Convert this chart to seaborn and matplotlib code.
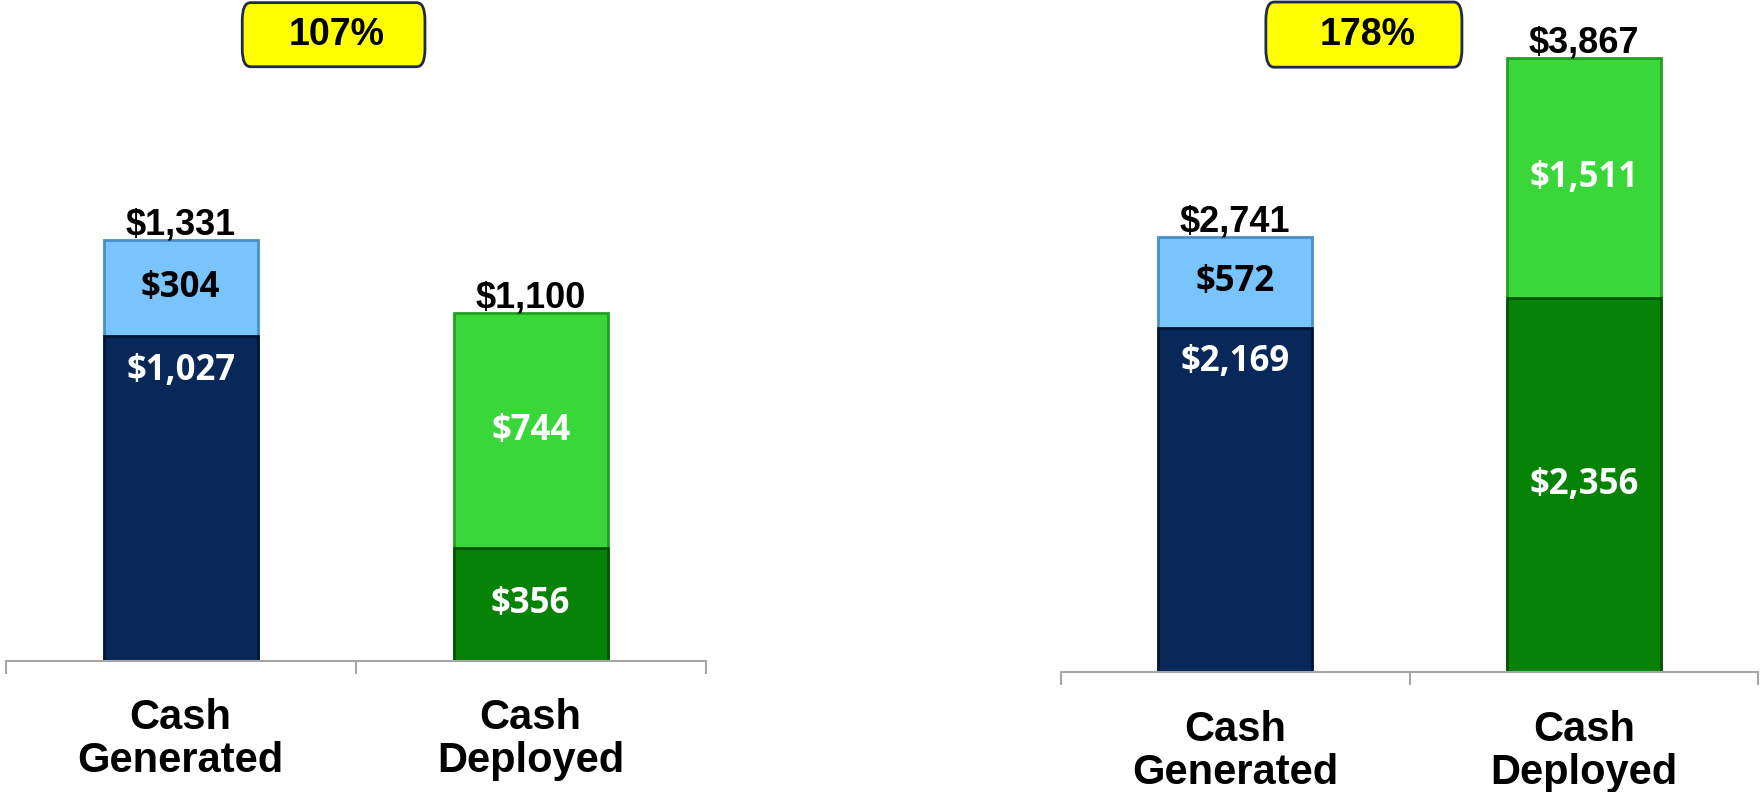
import numpy as np
import pandas as pd
import matplotlib
matplotlib.use('Agg')
import matplotlib.pyplot as plt
import seaborn as sns
from matplotlib.patches import FancyBboxPatch

# data ($ millions)
categories = ['Cash\nGenerated', 'Cash\nDeployed']
left_base = [1027, 356]
left_top = [304, 744]
right_base = [2169, 2356]
right_top = [572, 1511]
ratio_labels = ['107%', '178%']

base_colors = ['#072858', '#068206']
top_colors = ['#7AC4FC', '#39D739']
base_edges = ['#031632', '#045604']
top_edges = ['#4A90C8', '#22A022']
label_colors_base = ['white', 'white']
label_colors_top = ['black', 'white']

sns.set_style('white')
plt.rcParams['font.family'] = ['Liberation Sans', 'DejaVu Sans']
plt.rcParams['text.color'] = 'black'
plt.rcParams['xtick.color'] = 'black'

fig = plt.figure(figsize=(17.62, 7.92), dpi=100)
ax1 = fig.add_axes([0.0032, 0.1658, 0.3973, 0.8342])
ax2 = fig.add_axes([0.602, 0.1515, 0.396, 0.8485])


def draw_panel(ax, base, top, ymax, ratio, box_x):
    totals = [b + t for b, t in zip(base, top)]
    df = pd.DataFrame({'cat': categories, 'base': base, 'top': top, 'total': totals})
    sns.barplot(data=df, x='cat', y='total', hue='cat', palette=top_colors,
                width=0.44, legend=False, ax=ax, saturation=1)
    for p, ec in zip(ax.patches, top_edges):
        p.set_edgecolor(ec)
        p.set_linewidth(2)
    n0 = len(ax.patches)
    sns.barplot(data=df, x='cat', y='base', hue='cat', palette=base_colors,
                width=0.44, legend=False, ax=ax, saturation=1)
    for p, ec in zip(ax.patches[n0:], base_edges):
        p.set_edgecolor(ec)
        p.set_linewidth(2)

    ax.set_xlim(-0.5, 1.5)
    ax.set_ylim(0, ymax)
    ax.set_xlabel('')
    ax.set_ylabel('')
    ax.set_yticks([])
    sns.despine(ax=ax, left=True, top=True, right=True)
    ax.spines['bottom'].set_color('#A6A6A6')
    ax.spines['bottom'].set_linewidth(1.5)

    ax.set_xticks([0, 1])
    ax.set_xticklabels(categories, fontsize=30, fontweight='bold', linespacing=1.1,
                       color='black')
    ax.set_xticks([-0.5, 0.5, 1.5], minor=True)
    ax.tick_params(axis='x', which='major', length=0, pad=27)
    ax.tick_params(axis='x', which='minor', length=9, width=1.5, color='#A6A6A6',
                   direction='out', bottom=True)

    for i in range(2):
        # totals above bars
        ax.annotate(f'${totals[i]:,}', xy=(i, totals[i]), xytext=(0, 4),
                    textcoords='offset points', ha='center', va='baseline',
                    fontsize=26, fontweight='bold', color='black')
        # top segment, centred
        ax.text(i, base[i] + top[i] / 2, f'${top[i]:,}', ha='center', va='center',
                fontsize=25, fontweight='bold', color=label_colors_top[i],
                family=['Open Sans', 'DejaVu Sans'])
        # base segment
        if i == 0:
            ax.annotate(f'${base[i]:,}', xy=(i, base[i]), xytext=(0, -25),
                        textcoords='offset points', ha='center', va='center',
                        fontsize=25, fontweight='bold', color=label_colors_base[i],
                        family=['Open Sans', 'DejaVu Sans'])
        else:
            ax.text(i, base[i] / 2, f'${base[i]:,}', ha='center', va='center',
                    fontsize=25, fontweight='bold', color=label_colors_base[i],
                    family=['Open Sans', 'DejaVu Sans'])

    # yellow ratio box
    x0, x1, y0, y1 = box_x
    box = FancyBboxPatch((x0, y0), x1 - x0, y1 - y0,
                         boxstyle='round,pad=0,rounding_size=0.012',
                         transform=ax.transAxes, fc='#FFFF00', ec='#1E2B4A',
                         lw=2, clip_on=False, mutation_aspect=2.2)
    ax.add_patch(box)
    ax.text((x0 + x1) / 2 + 0.005, (y0 + y1) / 2, ratio, transform=ax.transAxes,
            ha='center', va='center', fontsize=27, fontweight='bold', color='black')


draw_panel(ax1, left_base, left_top, 2092, ratio_labels[0], (0.338, 0.599, 0.899, 0.996))
draw_panel(ax2, right_base, right_top, 4234, ratio_labels[1], (0.294, 0.575, 0.900, 0.997))

fig.savefig('out.png', dpi=100)
